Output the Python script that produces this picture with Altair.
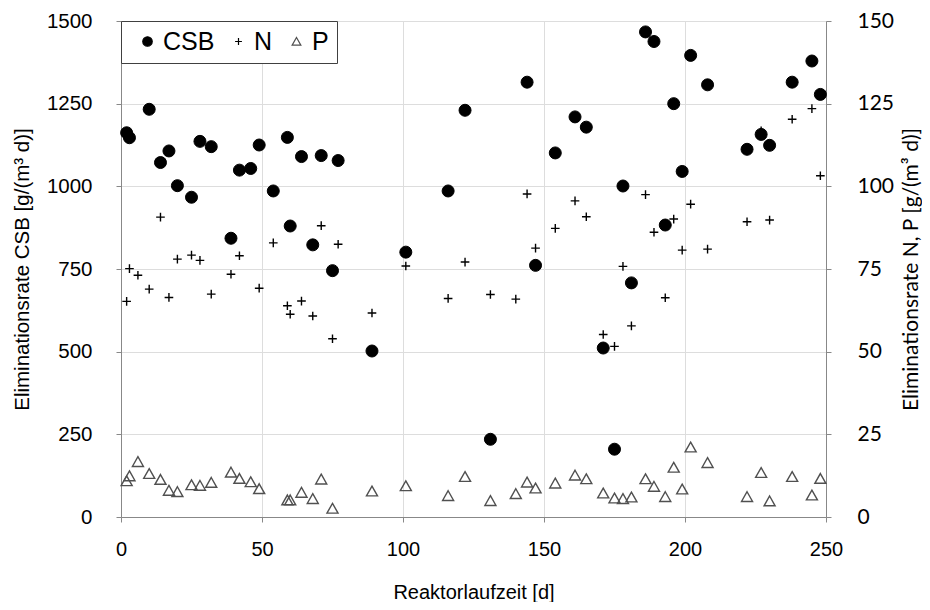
import altair as alt
import pandas as pd

# ---- data ----
csb_days = [2, 3, 10, 14, 17, 20, 25, 28, 32, 39, 42, 46, 49, 54, 59, 60, 64, 68, 71, 75,
            77, 89, 101, 116, 122, 131, 144, 147, 154, 161, 165, 171, 175, 178, 181, 186,
            189, 193, 196, 199, 202, 208, 222, 227, 230, 238, 245, 248]
csb_vals = [1162, 1147, 1233, 1072, 1107, 1002, 967, 1136, 1120, 843, 1049, 1054, 1125, 986,
            1148, 880, 1090, 823, 1093, 745, 1078, 502, 801, 986, 1230, 235, 1315, 761, 1101,
            1210, 1179, 511, 205, 1001, 708, 1467, 1438, 883, 1250, 1045, 1396, 1307, 1112,
            1157, 1124, 1315, 1379, 1278]

n_days = [2, 3, 6, 10, 14, 17, 20, 25, 28, 32, 39, 42, 49, 54, 59, 60, 64, 68, 71, 75, 77,
          89, 101, 116, 122, 131, 140, 144, 147, 154, 161, 165, 171, 175, 178, 181, 186, 189,
          193, 196, 199, 202, 208, 222, 227, 230, 238, 245, 248]
n_vals = [65.2, 75.1, 73.1, 68.9, 90.7, 66.4, 78.0, 79.2, 77.6, 67.4, 73.4, 79.0, 69.2, 82.9,
          63.9, 61.3, 65.3, 60.8, 88.1, 53.9, 82.5, 61.7, 75.9, 66.1, 77.1, 67.3, 65.9, 97.7,
          81.3, 87.3, 95.6, 90.8, 55.2, 51.6, 75.8, 57.8, 97.5, 86.1, 66.3, 90.1, 80.7, 94.6,
          81.0, 89.3, 116.8, 89.8, 120.3, 123.5, 103.2]

p_days = [2, 3, 6, 10, 14, 17, 20, 25, 28, 32, 39, 42, 46, 49, 59, 60, 64, 68, 71, 75, 89,
          101, 116, 122, 131, 140, 144, 147, 154, 161, 165, 171, 175, 178, 181, 186, 189, 193,
          196, 199, 202, 208, 222, 227, 230, 238, 245, 248]
p_vals = [10.9, 12.4, 16.7, 13.1, 11.3, 8.0, 7.6, 9.7, 9.5, 10.4, 13.5, 11.6, 10.6, 8.5, 5.1,
          5.1, 7.4, 5.5, 11.4, 2.6, 7.8, 9.4, 6.4, 12.2, 4.9, 7.0, 10.5, 8.7, 10.2, 12.6, 11.5,
          7.2, 5.7, 5.5, 6.0, 11.5, 9.2, 6.1, 15.0, 8.4, 21.1, 16.4, 6.1, 13.4, 4.8, 12.2, 6.6,
          11.6]

series_names = ["CSB", "N", "P"]
x_ticks = [0, 50, 100, 150, 200, 250]
left_ticks = [0, 250, 500, 750, 1000, 1250, 1500]
right_ticks = [0, 25, 50, 75, 100, 125, 150]

csb_df = pd.DataFrame({"day": csb_days, "value": csb_vals, "series": "CSB"})
np_df = pd.concat([
    pd.DataFrame({"day": n_days, "value": n_vals, "series": "N"}),
    pd.DataFrame({"day": p_days, "value": p_vals, "series": "P"}),
], ignore_index=True)

PLUS = "M-0.72,0L0.72,0M0,-0.72L0,0.72"
TRI = "M0,-0.85L0.92,0.78L-0.92,0.78Z"

shape_enc = alt.Shape("series:N", scale=alt.Scale(domain=series_names,
                                                  range=["circle", PLUS, TRI]),
                      legend=alt.Legend(title=None, orient="top-left", direction="horizontal",
                                        offset=0, strokeColor="#404040", fillColor="white",
                                        padding=8, labelFont="Liberation Sans",
                                        labelFontSize=25, labelColor="black",
                                        symbolSize=90, symbolStrokeWidth=1.2,
                                        gridAlign="none",
                                        columnPadding=5, labelOffset=3, symbolOffset=6))
fill_enc = alt.Fill("series:N", scale=alt.Scale(domain=series_names,
                                               range=["black", "transparent", "transparent"]),
                    legend=None)
stroke_enc = alt.Stroke("series:N", scale=alt.Scale(domain=series_names,
                                                   range=["black", "black", "#505050"]),
                        legend=None)

x_enc = alt.X("day:Q", scale=alt.Scale(domain=[0, 250], nice=False),
              axis=alt.Axis(values=x_ticks, title="Reaktorlaufzeit [d]", grid=True,
                            labelFlush=False, labelPadding=17, titlePadding=23,
                            labelFont="Liberation Sans", titleFont="Liberation Sans",
                            labelFontSize=20, titleFontSize=20, titleFontWeight="normal",
                            format="d"))

np_layer = alt.Chart(np_df).mark_point(opacity=1, size=144, strokeWidth=1.4).encode(
    x=x_enc,
    y=alt.Y("value:Q", scale=alt.Scale(domain=[0, 150], nice=False),
            axis=alt.Axis(orient="right", values=right_ticks, grid=False,
                          title="Eliminationsrate N, P [g/(m³ d)]", format="d",
                          labelFont="Lato", titleFont="Lato", labelFontSize=21,
                          titleFontSize=21, labelPadding=26, titlePadding=7,
                          titleFontWeight="normal",
                          titleAngle=270, titleBaseline="top")),
    shape=shape_enc, fill=fill_enc, stroke=stroke_enc,
)

csb_layer = alt.Chart(csb_df).mark_point(opacity=1, size=144, strokeWidth=1).encode(
    x=x_enc,
    y=alt.Y("value:Q", scale=alt.Scale(domain=[0, 1500], nice=False),
            axis=alt.Axis(orient="left", values=left_ticks, grid=True, format="d",
                          title="Eliminationsrate CSB [g/(m³ d)]",
                          labelFont="Liberation Sans", titleFont="Liberation Sans",
                          labelFontSize=20.5, titleFontSize=20.5, labelPadding=24,
                          titleFontWeight="normal", titlePadding=14)),
    shape=shape_enc, fill=fill_enc, stroke=stroke_enc,
)

chart = alt.layer(np_layer, csb_layer).resolve_scale(y="independent").properties(
    width=705, height=496,
    autosize=alt.AutoSizeParams(type="none"),
    padding={"left": 113, "top": 13, "right": 96, "bottom": 85},
).configure_view(stroke="#404040", strokeWidth=1.3).configure_axis(
    domain=False, ticks=False, tickSize=0, gridColor="#d9d9d9", gridWidth=1.2,
    labelColor="black", titleColor="black", titleFontWeight="normal", labelOverlap=False,
).configure(background="white")

chart.save("out.html", embed_options={"renderer": "svg", "actions": False})
